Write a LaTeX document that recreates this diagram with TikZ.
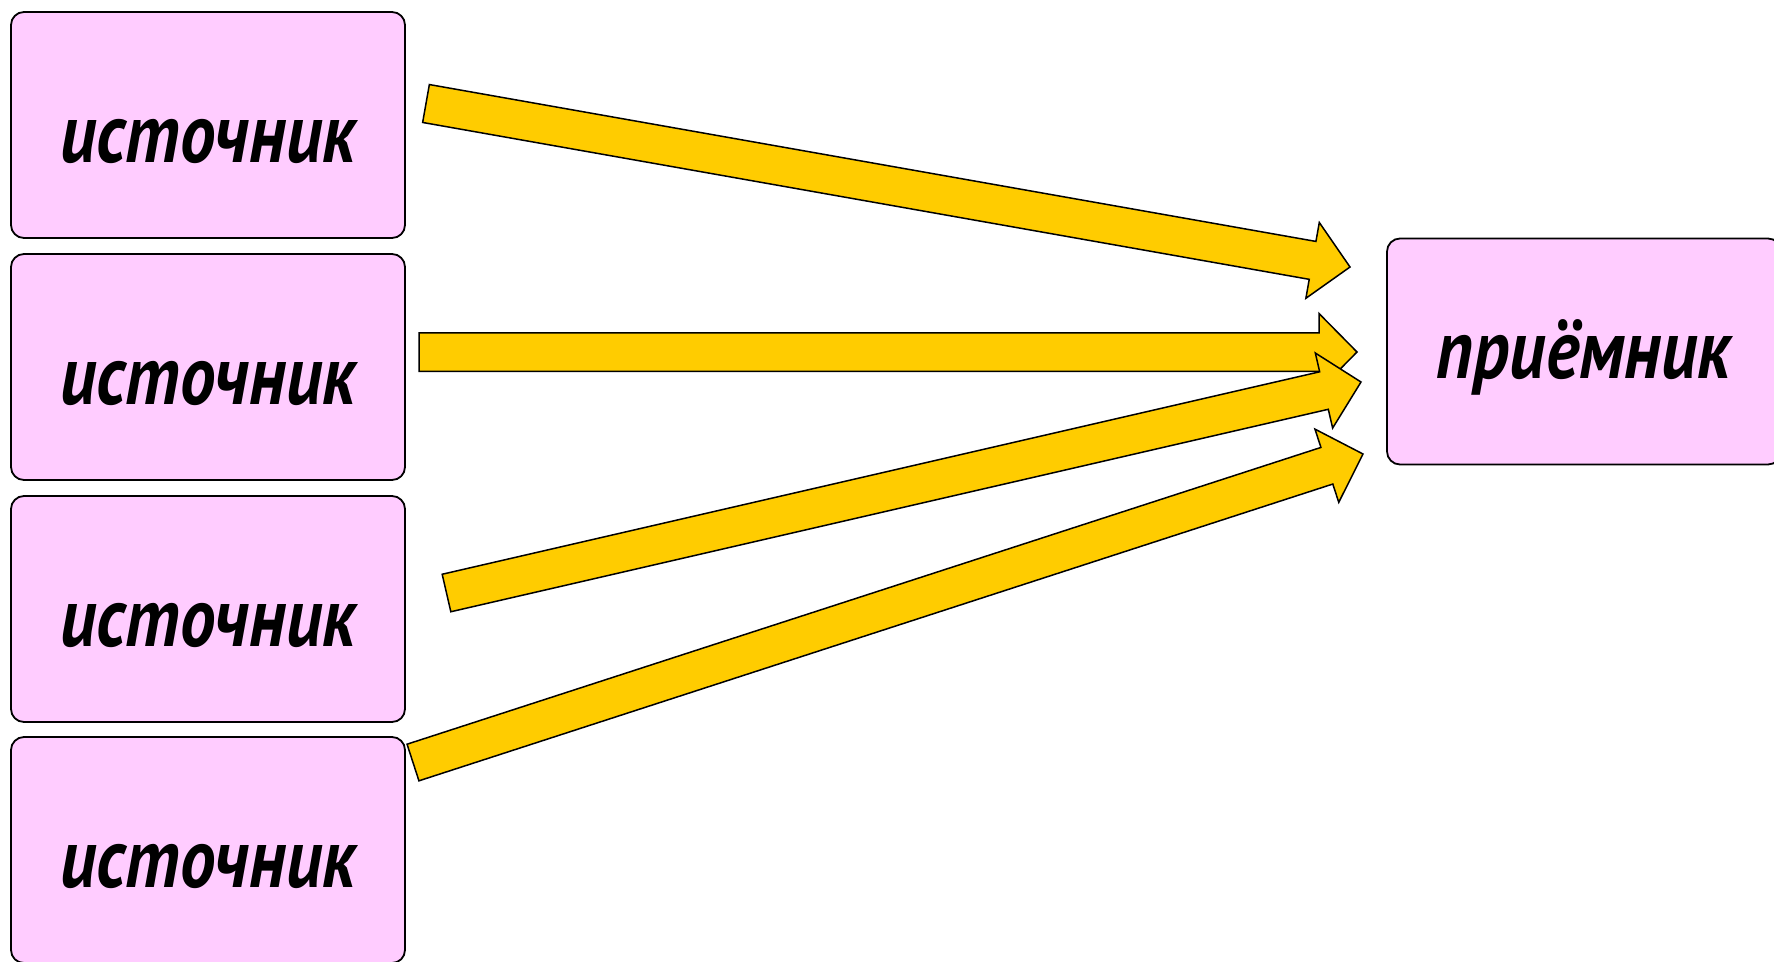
\documentclass[tikz,border=0pt]{standalone}
\usepackage{fontspec}
\setmainfont{PT Sans}[FakeStretch=0.845]
\usetikzlibrary{calc}
\definecolor{boxpink}{HTML}{FFCCFF}
\definecolor{arrowgold}{HTML}{FFCC00}
\newcommand\blockarrow[2]{%
  \draw[blockarrow]
    ($(#1)!19.25pt!90:(#2)$) --
    ($(#2)!38pt!(#1)!19.25pt!-90:(#1)$) --
    ($(#2)!38pt!(#1)!38.5pt!-90:(#1)$) --
    (#2) --
    ($(#2)!38pt!(#1)!38.5pt!90:(#1)$) --
    ($(#2)!38pt!(#1)!19.25pt!90:(#1)$) --
    ($(#1)!19.25pt!-90:(#2)$) -- cycle;}
\begin{document}
\begin{tikzpicture}[x=1pt,y=-1pt,
  srcbox/.style={draw=black, line width=1.8pt, fill=boxpink, rounded corners=13pt,
    minimum width=394pt, minimum height=226pt, inner sep=0pt,
    font=\fontsize{84}{90}\selectfont\bfseries\itshape,
    text height=90pt, text depth=15pt},
  dstbox/.style={srcbox, text height=70pt, text depth=17pt},
  blockarrow/.style={draw=black, line width=1.5pt, fill=arrowgold, line join=miter}]
\useasboundingbox (0,0) rectangle (1774,961);
\node[srcbox] (s1) at (208,125) {источник};
\node[srcbox] (s2) at (208,367) {источник};
\node[srcbox] (s3) at (208,609) {источник};
\node[srcbox] (s4) at (208,850) {источник};
\node[dstbox] (r) at (1584,351.5) {приёмник};
\coordinate (t1) at (426,103.5);
\coordinate (h1) at (1350,267);
\coordinate (t2) at (419,352);
\coordinate (h2) at (1357,352);
\coordinate (t3) at (446.5,593);
\coordinate (h3) at (1361,382);
\coordinate (t4) at (413,762.5);
\coordinate (h4) at (1363,454);
\blockarrow{t1}{h1}
\blockarrow{t2}{h2}
\blockarrow{t3}{h3}
\blockarrow{t4}{h4}
\end{tikzpicture}
\end{document}
